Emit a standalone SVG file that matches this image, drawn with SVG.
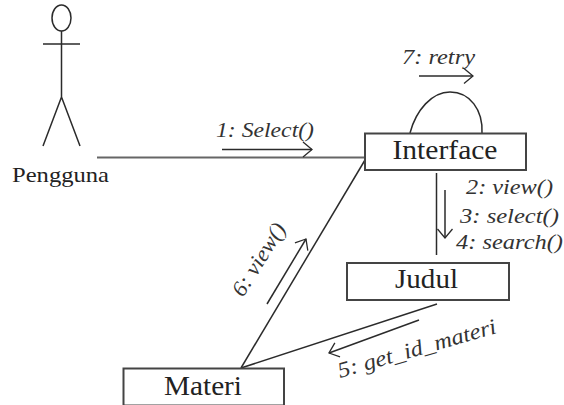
<svg xmlns="http://www.w3.org/2000/svg" width="564" height="405" viewBox="0 0 564 405">
<style>
.s{fill:none;stroke:#2b2b2b;stroke-width:1.5}
.b{fill:#fff;stroke:#444;stroke-width:2}
.n{font-family:"Liberation Serif","Times New Roman",serif;font-size:27px;fill:#222}
.m{font-family:"Liberation Serif","Times New Roman",serif;font-size:22px;font-style:italic;fill:#333}
</style>
<defs>
<marker id="a" viewBox="0 0 12 18" refX="11" refY="9" markerWidth="12" markerHeight="18" markerUnits="userSpaceOnUse" orient="auto"><path d="M2 1.500L11 9L2 16.500" fill="none" stroke="#2b2b2b" stroke-width="1.3"/></marker>
</defs>
<g id="connectors">
<path d="M97 157.500H366" fill="none" stroke="#666" stroke-width="2"/>
<path class="s" d="M365 160L241 368"/>
<path class="s" d="M437 304L241 368"/>
<path class="s" d="M436.500 173V255"/>
<path class="s" d="M410 133C416 110 432 92 450 92C470 92 483 110 482 133"/>
<path class="s" marker-end="url(#a)" d="M222 149.500H312"/>
<path class="s" marker-end="url(#a)" d="M419 76H473"/>
<path class="s" marker-end="url(#a)" d="M445 190V238"/>
<path class="s" marker-end="url(#a)" d="M267 304L306 239"/>
<path class="s" marker-end="url(#a)" d="M419 320L329 353"/>
<text class="m" x="216" y="137" textLength="98" lengthAdjust="spacingAndGlyphs">1: Select()</text>
<text class="m" x="402" y="64" textLength="73" lengthAdjust="spacingAndGlyphs">7: retry</text>
<text class="m" x="466" y="194" textLength="87" lengthAdjust="spacingAndGlyphs">2: view()</text>
<text class="m" x="460" y="223" textLength="99" lengthAdjust="spacingAndGlyphs">3: select()</text>
<text class="m" x="456" y="249" textLength="107" lengthAdjust="spacingAndGlyphs">4: search()</text>
<text class="m" transform="translate(243 298) rotate(-58)" textLength="82" lengthAdjust="spacingAndGlyphs">6: view()</text>
<text class="m" transform="translate(340 378) rotate(-16)" textLength="164" lengthAdjust="spacingAndGlyphs">5: get_id_materi</text>
</g>
<g id="pengguna" fill="none" stroke="#2b2b2b" stroke-width="1.5">
<ellipse cx="61.500" cy="18" rx="9.500" ry="13"/>
<path d="M61.500 31V97M43 44H80M61.500 97L43 146M61.500 97L80 146"/>
<text x="12" y="182" stroke="none" fill="#222" font-family="Liberation Serif, Times New Roman, serif" font-size="22" textLength="97" lengthAdjust="spacingAndGlyphs">Pengguna</text>
</g>
<g id="interface"><rect class="b" x="365" y="133.500" width="161" height="36.500"/><text class="n" x="392.500" y="159" textLength="105" lengthAdjust="spacingAndGlyphs">Interface</text></g>
<g id="judul"><rect class="b" x="347" y="263" width="162" height="37"/><text class="n" x="395" y="288" textLength="63" lengthAdjust="spacingAndGlyphs">Judul</text></g>
<g id="materi"><rect class="b" x="123.500" y="368.500" width="160.500" height="37"/><text class="n" x="164" y="395" textLength="78" lengthAdjust="spacingAndGlyphs">Materi</text></g>
</svg>
